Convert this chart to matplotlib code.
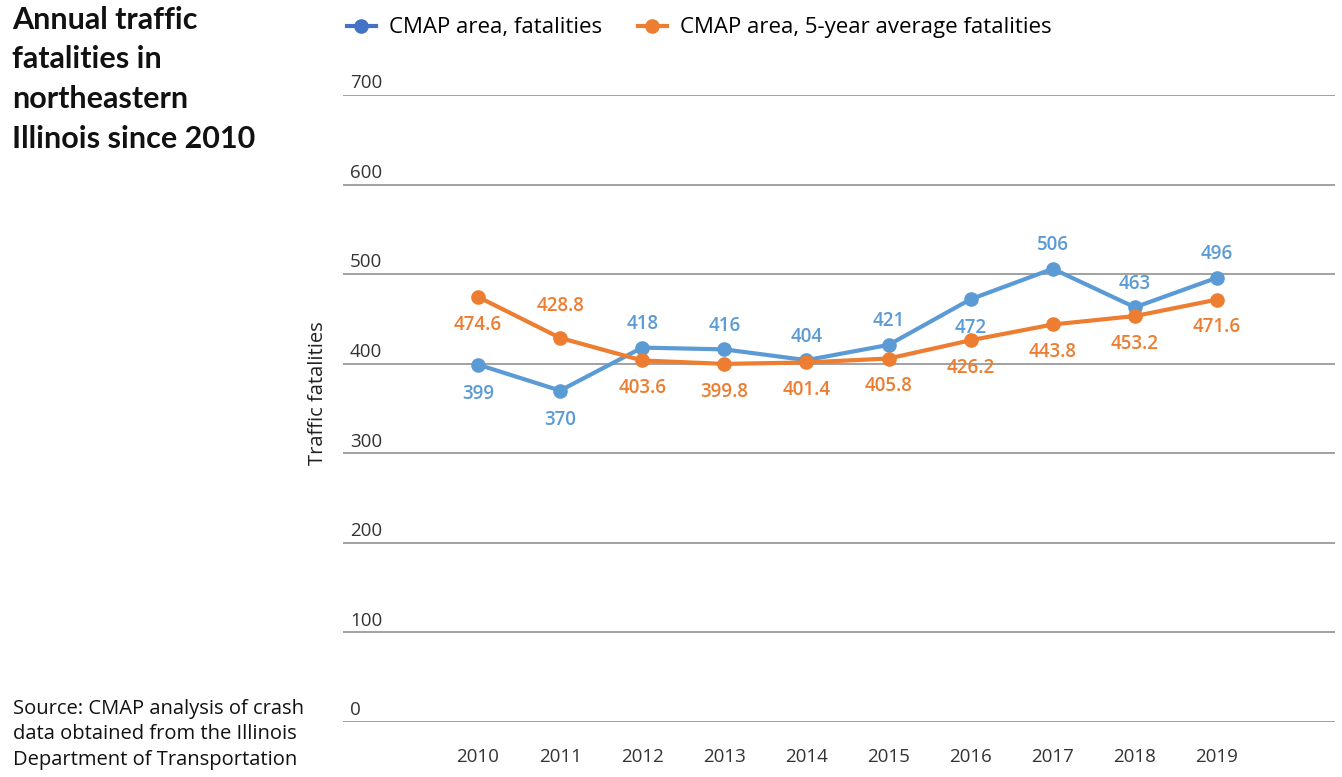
import matplotlib
matplotlib.use("Agg")
import matplotlib.pyplot as plt
from matplotlib.lines import Line2D

years = ["2010", "2011", "2012", "2013", "2014", "2015", "2016", "2017", "2018", "2019"]
fatalities = [399, 370, 418, 416, 404, 421, 472, 506, 463, 496]
avg5 = [474.6, 428.8, 403.6, 399.8, 401.4, 405.8, 426.2, 443.8, 453.2, 471.6]
fatal_labels = ["399", "370", "418", "416", "404", "421", "472", "506", "463", "496"]
avg_labels = ["474.6", "428.8", "403.6", "399.8", "401.4", "405.8", "426.2", "443.8", "453.2", "471.6"]
yticks = [0, 100, 200, 300, 400, 500, 600, 700]

# label placement: +1 above, -1 below
fatal_pos = [-1, -1, 1, 1, 1, 1, -1, 1, 1, 1]
avg_pos = [-1, 1, -1, -1, -1, -1, -1, -1, -1, -1]

BLUE = "#5B9BD5"
ORANGE = "#ED7D31"
LEG_BLUE = "#4472C4"

plt.rcParams['font.family'] = ['Open Sans', 'DejaVu Sans']

fig = plt.figure(figsize=(13.42, 7.77), dpi=100)
ax = fig.add_axes([343/1342, 55/777, (1335-343)/1342, (722-95)/777])

x = list(range(len(years)))
ax.plot(x, fatalities, color=BLUE, lw=3, marker='o', ms=9.5, zorder=3)
ax.plot(x, avg5, color=ORANGE, lw=3, marker='o', ms=9.5, zorder=3)

for i in x:
    off = 17 if fatal_pos[i] > 0 else -21
    ax.annotate(fatal_labels[i], (i, fatalities[i]), xytext=(0, off), textcoords='offset points',
                ha='center', va='center', color=BLUE, fontsize=13.5, fontweight='semibold')
    off = 23 if avg_pos[i] > 0 else -20
    ax.annotate(avg_labels[i], (i, avg5[i]), xytext=(0, off), textcoords='offset points',
                ha='center', va='center', color=ORANGE, fontsize=13.5, fontweight='semibold')

left = -(478-343)/82.1
right = 9 + (1335-1217)/82.1
ax.set_xlim(left, right)
ax.set_ylim(0, 700)

for t in yticks:
    ax.axhline(t, color='#9a9a9a', lw=1.3, zorder=1)
    ax.annotate(str(t), (0, t), xycoords=('axes fraction', 'data'), xytext=(5, 2),
                textcoords='offset points', ha='left', va='bottom', fontsize=13.5, color='#333333')

for s in ax.spines.values():
    s.set_visible(False)
ax.set_yticks([])
ax.set_xticks(x)
ax.set_xticklabels(years, fontsize=13.5, color='#333333')
ax.tick_params(axis='x', length=0, pad=19)

fig.text(318/1342, 1-393/777, "Traffic fatalities", rotation=90, ha='center', va='center',
         fontsize=14.5, color='#222222')

handles = [Line2D([0], [0], color=LEG_BLUE, lw=3, marker='o', ms=9.5),
           Line2D([0], [0], color=ORANGE, lw=3, marker='o', ms=9.5)]
fig.legend(handles, ["CMAP area, fatalities", "CMAP area, 5-year average fatalities"],
           loc='center left', bbox_to_anchor=(327/1342, 1-28/777), ncol=2, frameon=False,
           fontsize=16, handlelength=1.3, handletextpad=0.6, columnspacing=1.6)

fig.text(12/1342, 1-6/777, "Annual traffic\nfatalities in\nnortheastern\nIllinois since 2010",
         ha='left', va='top', fontsize=22, fontweight='bold', family=['Lato', 'DejaVu Sans'],
         linespacing=1.5, color='#111111')
fig.text(13/1342, 1-699/777, "Source: CMAP analysis of crash\ndata obtained from the Illinois\nDepartment of Transportation",
         ha='left', va='top', fontsize=14.5, linespacing=1.36, color='#111111')

fig.savefig("out.png", dpi=100)
